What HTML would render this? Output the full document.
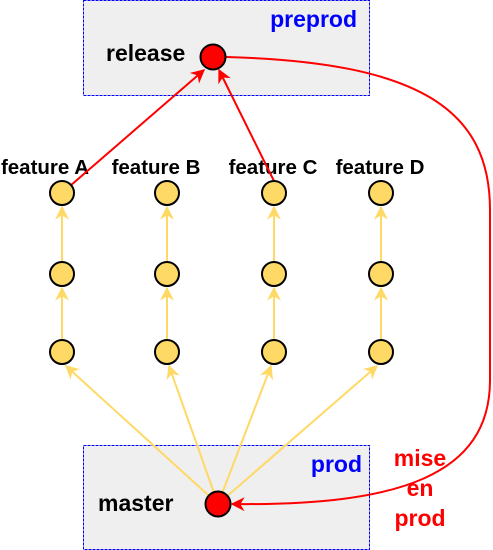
<!DOCTYPE html>
<html><head><meta charset="utf-8"><style>
html,body{margin:0;padding:0;background:#fff;}
svg{display:block;font-family:"Liberation Sans",sans-serif;font-weight:bold;}
</style></head><body>
<svg width="493" height="550" viewBox="0 0 493 550">
<defs>
<marker id="ay" viewBox="0 0 10 10" refX="9" refY="5" markerWidth="7" markerHeight="7" orient="auto"><path d="M0,0 L10,5 L0,10 L3,5 Z" fill="#ffd966"/></marker>
<marker id="ar" viewBox="0 0 10 10" refX="9" refY="5" markerWidth="7" markerHeight="7" orient="auto"><path d="M0,0 L10,5 L0,10 L3,5 Z" fill="#f00"/></marker>
</defs>
<rect x="83.5" y="0.5" width="286" height="95" fill="#efefef" stroke="#0000ff" stroke-width="1" stroke-dasharray="3,1" shape-rendering="crispEdges"/>
<rect x="83.5" y="445.5" width="286" height="104" fill="#efefef" stroke="#0000ff" stroke-width="1" stroke-dasharray="3,1" shape-rendering="crispEdges"/>
<text x="357" y="27" font-size="23" fill="#00f" text-anchor="end">preprod</text>
<text x="362" y="472" font-size="23" fill="#00f" text-anchor="end">prod</text>
<text x="106" y="61" font-size="23">release</text>
<text x="98" y="511" font-size="23">master</text>
<g font-size="20.5" text-anchor="middle">
<text x="45" y="174">feature A</text>
<text x="156" y="174">feature B</text>
<text x="273" y="174">feature C</text>
<text x="380" y="174">feature D</text>
</g>
<g stroke="#ffd966" stroke-width="2" fill="none">
<line x1="218" y1="504" x2="66" y2="366" marker-end="url(#ay)"/>
<line x1="218" y1="504" x2="169" y2="366" marker-end="url(#ay)"/>
<line x1="218" y1="504" x2="271" y2="366" marker-end="url(#ay)"/>
<line x1="218" y1="504" x2="377" y2="366" marker-end="url(#ay)"/>
<g>
<line x1="62" y1="339" x2="62" y2="288" marker-end="url(#ay)"/><line x1="62" y1="261" x2="62" y2="207" marker-end="url(#ay)"/>
<line x1="167" y1="339" x2="167" y2="288" marker-end="url(#ay)"/><line x1="167" y1="261" x2="167" y2="207" marker-end="url(#ay)"/>
<line x1="274" y1="339" x2="274" y2="288" marker-end="url(#ay)"/><line x1="274" y1="261" x2="274" y2="207" marker-end="url(#ay)"/>
<line x1="381" y1="339" x2="381" y2="288" marker-end="url(#ay)"/><line x1="381" y1="261" x2="381" y2="207" marker-end="url(#ay)"/>
</g>
</g>
<g stroke="#f00" stroke-width="2" fill="none">
<line x1="70" y1="186" x2="204" y2="70" marker-end="url(#ar)"/>
<line x1="274" y1="181" x2="219" y2="70" marker-end="url(#ar)"/>
<path d="M226,57 C420,62 490,110 490,210 L490,380 C490,475 400,506 232,504" marker-end="url(#ar)"/>
</g>
<g stroke="#000" stroke-width="2" fill="#ffd966">
<circle cx="62" cy="193" r="12"/><circle cx="62" cy="274" r="12"/><circle cx="62" cy="352" r="12"/>
<circle cx="167" cy="193" r="12"/><circle cx="167" cy="274" r="12"/><circle cx="167" cy="352" r="12"/>
<circle cx="274" cy="193" r="12"/><circle cx="274" cy="274" r="12"/><circle cx="274" cy="352" r="12"/>
<circle cx="381" cy="193" r="12"/><circle cx="381" cy="274" r="12"/><circle cx="381" cy="352" r="12"/>
</g>
<circle cx="213" cy="57" r="12.5" fill="#f00" stroke="#000" stroke-width="2"/>
<circle cx="218" cy="504" r="12.5" fill="#f00" stroke="#000" stroke-width="2"/>
<g font-size="23" fill="#f00" text-anchor="middle">
<text x="420" y="466">mise</text><text x="420" y="496">en</text><text x="420" y="526">prod</text>
</g>
</svg>
</body></html>
